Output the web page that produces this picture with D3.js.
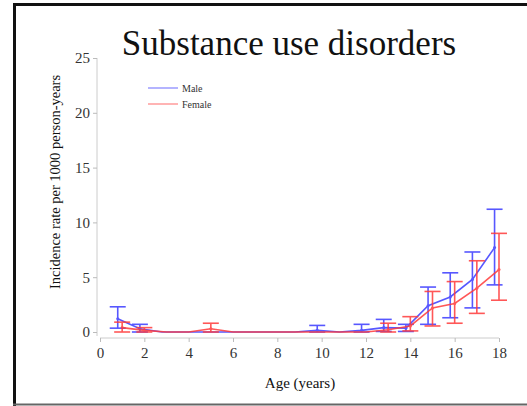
<!DOCTYPE html>
<html>
<head>
<meta charset="utf-8">
<script src="https://cdn.jsdelivr.net/npm/d3@7"></script>
<style>
  body { margin: 0; background: #fff; }
  svg { display: block; font-family: "Liberation Serif", "DejaVu Serif", serif; }
</style>
</head>
<body>
<svg width="527" height="406"></svg>
<script>
// ages and rates (per 1000 person-years)
var ages = [1, 2, 3, 4, 5, 6, 7, 8, 9, 10, 11, 12, 13, 14, 15, 16, 17, 18];

var maleRate  = [1.2, 0.3, 0, 0, 0, 0, 0, 0, 0, 0.15, 0, 0.15, 0.4, 0.35, 2.4, 3.2, 4.8, 7.7];
var maleLow   = [0.35, 0, 0, 0, 0, 0, 0, 0, 0, 0, 0, 0, 0.05, 0.05, 0.7, 1.3, 2.2, 4.3];
var maleHigh  = [2.3, 0.7, 0, 0, 0, 0, 0, 0, 0, 0.6, 0, 0.7, 1.15, 0.7, 4.1, 5.4, 7.3, 11.2];

var femaleRate = [0.4, 0.15, 0, 0, 0.3, 0, 0, 0, 0, 0, 0, 0, 0.2, 0.55, 2.2, 2.6, 4.0, 5.7];
var femaleLow  = [0, 0, 0, 0, 0, 0, 0, 0, 0, 0, 0, 0, 0, 0.1, 0.55, 0.8, 1.7, 2.9];
var femaleHigh = [0.9, 0.4, 0, 0, 0.8, 0, 0, 0, 0, 0, 0, 0, 0.8, 1.4, 3.7, 4.6, 6.5, 9.0];

var xTicks = [0, 2, 4, 6, 8, 10, 12, 14, 16, 18];
var yTicks = [0, 5, 10, 15, 20, 25];

var svg = d3.select("svg");

// frame
svg.append("line").attr("x1", 13).attr("x2", 527).attr("y1", 4.5).attr("y2", 4.5)
    .attr("stroke", "#111").attr("stroke-width", 3);
svg.append("line").attr("x1", 14.5).attr("x2", 14.5).attr("y1", 3).attr("y2", 406)
    .attr("stroke", "#111").attr("stroke-width", 3);
svg.append("line").attr("x1", 13).attr("x2", 527).attr("y1", 404.5).attr("y2", 404.5)
    .attr("stroke", "#666").attr("stroke-width", 2);

var x = d3.scaleLinear().domain([0, 18]).range([100, 499]);
var y = d3.scaleLinear().domain([0, 25]).range([332, 58]);

// axes
var xAxis = svg.append("g").attr("transform", "translate(0,338)")
    .call(d3.axisBottom(x).tickValues(xTicks).tickSize(4).tickPadding(5));
var yAxis = svg.append("g").attr("transform", "translate(97,0)")
    .call(d3.axisLeft(y).tickValues(yTicks).tickSize(4).tickPadding(3));

[xAxis, yAxis].forEach(function (g) {
    g.select(".domain").attr("stroke", "#ccc");
    g.selectAll(".tick line").attr("stroke", "#bbb");
    g.selectAll(".tick text").attr("fill", "#333")
        .style("font-family", "Liberation Serif").style("font-size", "15px");
});
xAxis.select(".domain").attr("d", "M100,0H499");
yAxis.select(".domain").attr("d", "M0,58V336");

// titles
svg.append("text").attr("x", 289).attr("y", 55).attr("text-anchor", "middle")
    .style("font-size", "35px").attr("fill", "#111")
    .text("Substance use disorders");

svg.append("text").attr("x", 300).attr("y", 388).attr("text-anchor", "middle")
    .style("font-size", "15px").attr("fill", "#111")
    .text("Age (years)");

svg.append("text").attr("transform", "translate(60,182) rotate(-90)")
    .attr("text-anchor", "middle").style("font-size", "14.5px").attr("fill", "#111")
    .text("Incidence rate per 1000 person-years");

// series
var series = [
    { name: "Male", color: "#3a3aff", shift: -0.2, rate: maleRate, low: maleLow, high: maleHigh },
    { name: "Female", color: "#ff3a3a", shift: 0, rate: femaleRate, low: femaleLow, high: femaleHigh }
];

var line = d3.line()
    .x(function (d) { return x(d.age); })
    .y(function (d) { return y(d.rate); });

var capW = 8;

series.forEach(function (s) {
    var pts = ages.map(function (a, i) {
        return { age: a + s.shift, rate: s.rate[i], low: s.low[i], high: s.high[i] };
    });
    var g = svg.append("g").attr("opacity", 0.85);

    g.append("path").datum(pts).attr("d", line)
        .attr("fill", "none").attr("stroke", s.color).attr("stroke-width", 1.6);

    var bars = g.selectAll(".bar").data(pts.filter(function (d) { return d.high > 0; }))
        .enter().append("g");
    bars.append("line")
        .attr("x1", function (d) { return x(d.age); })
        .attr("x2", function (d) { return x(d.age); })
        .attr("y1", function (d) { return y(d.low); })
        .attr("y2", function (d) { return y(d.high); })
        .attr("stroke", s.color).attr("stroke-width", 1.6);
    bars.append("line")
        .attr("x1", function (d) { return x(d.age) - capW; })
        .attr("x2", function (d) { return x(d.age) + capW; })
        .attr("y1", function (d) { return y(d.high); })
        .attr("y2", function (d) { return y(d.high); })
        .attr("stroke", s.color).attr("stroke-width", 1.6);
    bars.append("line")
        .attr("x1", function (d) { return x(d.age) - capW; })
        .attr("x2", function (d) { return x(d.age) + capW; })
        .attr("y1", function (d) { return y(d.low); })
        .attr("y2", function (d) { return y(d.low); })
        .attr("stroke", s.color).attr("stroke-width", 1.6);

    g.selectAll("circle").data(pts.filter(function (d) { return d.rate > 0; }))
        .enter().append("circle")
        .attr("cx", function (d) { return x(d.age); })
        .attr("cy", function (d) { return y(d.rate); })
        .attr("r", 1.5).attr("fill", s.color);
});

// legend
var legend = svg.append("g");
series.forEach(function (s, i) {
    var ly = 88 + i * 16;
    legend.append("line").attr("x1", 148).attr("x2", 178).attr("y1", ly).attr("y2", ly)
        .attr("stroke", s.color).attr("stroke-width", 1.5).attr("opacity", 0.5);
    legend.append("text").attr("x", 182).attr("y", ly + 3.5)
        .style("font-size", "10px").attr("fill", "#333").text(s.name);
});
</script>
</body>
</html>
